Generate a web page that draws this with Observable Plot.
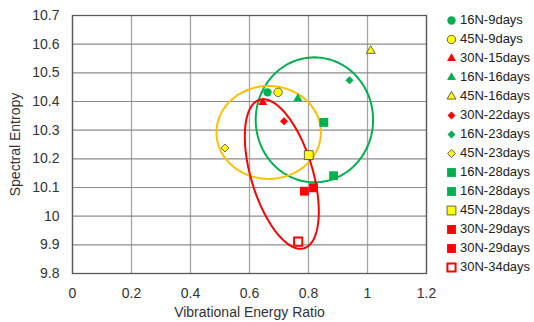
<!DOCTYPE html>
<html><head><meta charset="utf-8">
<script src="https://cdn.jsdelivr.net/npm/d3@7"></script>
<script src="https://cdn.jsdelivr.net/npm/@observablehq/plot@0.6"></script>
<style>
html,body{margin:0;padding:0;background:#fff;}
#wrap{position:relative;width:534px;height:322px;font-family:"Liberation Sans",Arial,sans-serif;}
#legend{position:absolute;left:444px;top:10px;font-size:13px;color:#222;}
.row{height:19px;line-height:19px;display:flex;align-items:center;white-space:nowrap;}
.row svg{margin-right:2px;}
.ttl-x text,.ttl-y text{font-size:15px;}
</style></head>
<body><div id="wrap"><div id="chart"></div><div id="legend"></div></div>
<script>
// data
const seriesNames = ["16N-9days","45N-9days","30N-15days","16N-16days","45N-16days","30N-22days","16N-23days","45N-23days","16N-28days","16N-28days","45N-28days","30N-29days","30N-29days","30N-34days"];
const vibRatio = [0.661,0.697,0.645,0.764,1.011,0.717,0.939,0.517,0.852,0.885,0.801,0.786,0.817,0.765];
const spectralEntropy = [10.432,10.432,10.397,10.411,10.577,10.331,10.474,10.238,10.327,10.141,10.213,10.087,10.099,9.911];
const shapes = ["circle","circle","triangle","triangle","triangle","diamond","diamond","diamond","square","square","square","square","square","open"];
const xTicks = [0,0.2,0.4,0.6,0.8,1,1.2];
const yTicks = [9.8,9.9,10,10.1,10.2,10.3,10.4,10.5,10.6,10.7];
// group ellipses: center and two semi-axis vectors (data units)
const ellipseGroups = ["16N","45N","30N"];
const ellipseCx = [0.82,0.665,0.7095];
const ellipseCy = [10.336,10.292,10.147];
const ellipseU = [[0.199,0],[0.177,0],[0.0753,-0.259]];
const ellipseV = [[0,0.218],[0,0.162],[0.1003,0.0308]];

// styles
const groupColor = {"16N":"#00B050","45N":"#FFFF00","30N":"#FF0000"};
const ellipseColor = {"16N":"#00B050","45N":"#FFC000","30N":"#FF0000"};
const shapeStyle = {
  circle:{symbol:"circle",r:4.2},
  triangle:{symbol:"triangle",r:3.3},
  diamond:{symbol:"diamond2",r:3.6},
  square:{symbol:"square",r:5.0},
  open:{symbol:"square",r:4.6}
};

const points = seriesNames.map((n,i)=>({name:n,group:n.slice(0,3),x:vibRatio[i],y:spectralEntropy[i],shape:shapes[i]}));
const ellipsePts = [];
ellipseGroups.forEach((g,k)=>{
  for(let j=0;j<=120;j++){
    const t = 2*Math.PI*j/120;
    ellipsePts.push({group:g,
      x: ellipseCx[k] + Math.cos(t)*ellipseU[k][0] + Math.sin(t)*ellipseV[k][0],
      y: ellipseCy[k] + Math.cos(t)*ellipseU[k][1] + Math.sin(t)*ellipseV[k][1]});
  }
});

function dotMark(p){
  const s = shapeStyle[p.shape];
  const col = groupColor[p.group];
  if(p.shape==="open") return Plot.dot([p],{x:"x",y:"y",symbol:s.symbol,r:s.r,fill:"white",stroke:col,strokeWidth:2});
  const isYellow = p.group==="45N";
  return Plot.dot([p],{x:"x",y:"y",symbol:s.symbol,r:s.r,fill:col,stroke:isYellow?"#404040":"none",strokeWidth:isYellow?0.8:0});
}

const fmt = d=>String(+d.toFixed(2));
const chart = Plot.plot({
  width:534,height:322,
  marginLeft:72,marginRight:108,marginTop:15,marginBottom:49,
  style:{fontFamily:"'Liberation Sans',Arial,sans-serif",fontSize:"14px",color:"#333",background:"white"},
  x:{domain:[0,1.2]},
  y:{domain:[9.8,10.7]},
  marks:[
    Plot.gridX(xTicks,{stroke:"#a6a6a6",strokeOpacity:1,strokeWidth:1.3}),
    Plot.gridY(yTicks,{stroke:"#8c8c8c",strokeOpacity:1,strokeWidth:1.2}),
    Plot.frame({stroke:"#595959",strokeWidth:1.3}),
    Plot.axisX(xTicks,{tickSize:0,tickPadding:15,tickFormat:fmt,label:null}),
    Plot.axisY(yTicks,{tickSize:0,tickPadding:13,tickFormat:fmt,label:null}),
    Plot.axisX({tickSize:0,ticks:[],label:"Vibrational Energy Ratio",labelAnchor:"center",labelOffset:43,labelArrow:"none",className:"ttl-x"}),
    Plot.axisY({tickSize:0,ticks:[],label:"Spectral Entropy",labelAnchor:"center",labelOffset:62,labelArrow:"none",className:"ttl-y"}),
    ...ellipseGroups.map(g=>Plot.line(ellipsePts.filter(d=>d.group===g),{x:"x",y:"y",stroke:ellipseColor[g],strokeWidth:2,curve:"linear-closed"})),
    ...points.map(dotMark)
  ]
});
document.getElementById("chart").appendChild(chart);

// legend
const leg = document.getElementById("legend");
points.forEach(p=>{
  const row = document.createElement("div");
  row.className="row";
  const mini = Plot.plot({width:14,height:14,margin:0,axis:null,x:{domain:[0,1]},y:{domain:[0,1]},
    marks:[dotMark({...p,x:0.5,y:0.5})]});
  mini.style.overflow="visible";
  row.appendChild(mini);
  const span=document.createElement("span");
  span.textContent=p.name;
  row.appendChild(span);
  leg.appendChild(row);
});
</script></body></html>
